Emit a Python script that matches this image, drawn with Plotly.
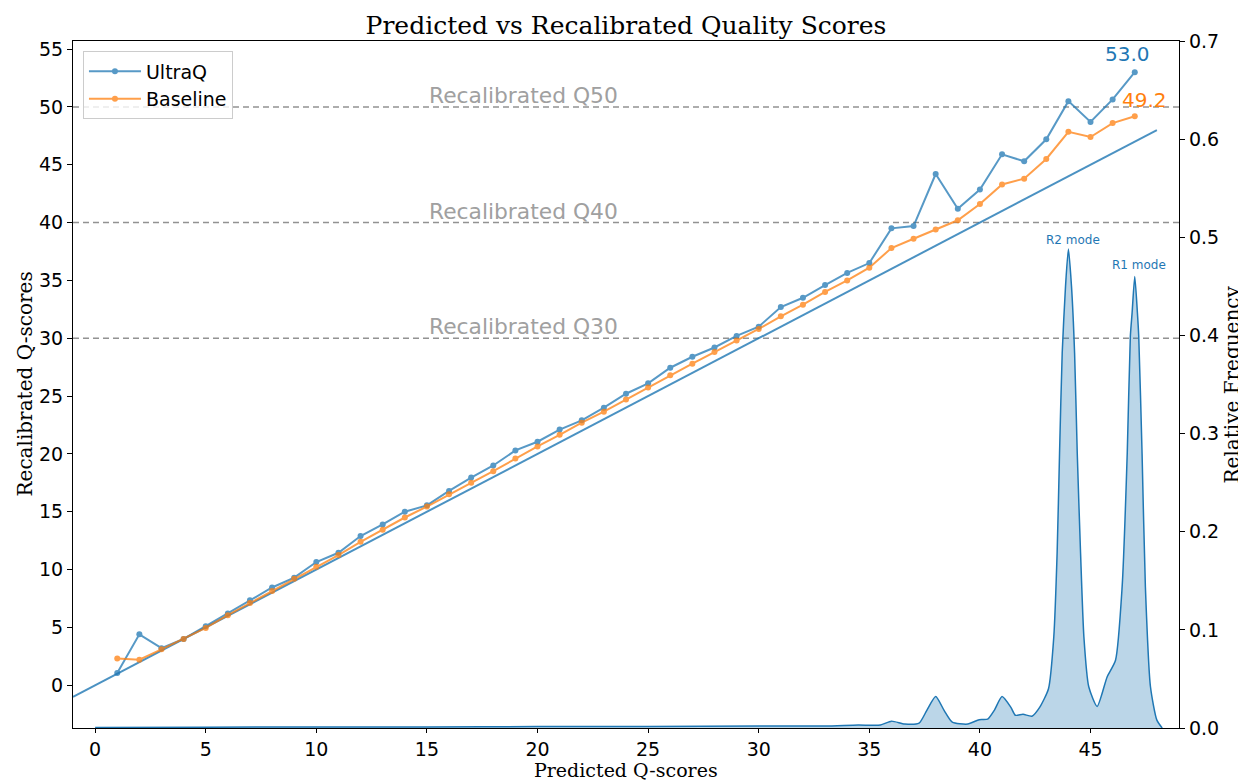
import plotly.graph_objects as go

# ---- data ----
pred_q = list(range(1, 48))
ultraq = [1.05, 4.4, 3.2, 4.0, 5.1, 6.2, 7.35, 8.45, 9.3, 10.65,
          11.45, 12.9, 13.9, 15.0, 15.55, 16.8, 17.95, 19.0, 20.3, 21.05,
          22.1, 22.9, 24.0, 25.2, 26.1, 27.45, 28.4, 29.2, 30.2, 31.0,
          32.7, 33.5, 34.6, 35.65, 36.5, 39.5, 39.7, 44.2, 41.2, 42.85,
          45.9, 45.3, 47.2, 50.5, 48.7, 50.65, 53.0]
baseline = [2.3, 2.2, 3.1, 4.0, 4.95, 6.05, 7.1, 8.15, 9.2, 10.25,
            11.25, 12.4, 13.45, 14.5, 15.45, 16.5, 17.5, 18.5, 19.6, 20.65,
            21.65, 22.7, 23.65, 24.7, 25.75, 26.8, 27.8, 28.8, 29.8, 30.8,
            31.9, 32.9, 34.0, 35.0, 36.1, 37.8, 38.6, 39.4, 40.2, 41.6,
            43.3, 43.8, 45.5, 47.85, 47.4, 48.6, 49.2]
identity_x = [-1, 48]

dens_x = [0, 5, 10, 15, 20, 25, 30, 33, 34.5, 35.5, 36.0, 36.6, 37.25, 37.6,
          38.0, 38.38, 38.75, 39.45, 39.97, 40.35, 40.65, 41.0, 41.4, 41.6,
          41.95, 42.35, 42.7, 43.1, 43.34, 43.49, 43.6, 43.72, 43.87, 44.0,
          44.14, 44.28, 44.4, 44.55, 44.7, 44.92, 45.3, 45.75, 46.13, 46.43,
          46.66, 46.8, 46.88, 47.0, 47.12, 47.18, 47.33, 47.48, 47.71, 48.0, 48.24]
dens_y = [0.0005, 0.0008, 0.001, 0.001, 0.0015, 0.0015, 0.002, 0.002, 0.003, 0.003,
          0.007, 0.004, 0.005, 0.018, 0.032, 0.018, 0.006, 0.004, 0.0085, 0.009,
          0.018, 0.032, 0.021, 0.013, 0.014, 0.012, 0.021, 0.040, 0.093, 0.178,
          0.28, 0.382, 0.45, 0.488, 0.45, 0.382, 0.28, 0.178, 0.093, 0.042,
          0.022, 0.052, 0.069, 0.144, 0.28, 0.399, 0.423, 0.46, 0.423, 0.399,
          0.28, 0.144, 0.042, 0.008, 0.0]

q_levels = [30, 40, 50]
x_ticks = [0, 5, 10, 15, 20, 25, 30, 35, 40, 45]
y_ticks = [0, 5, 10, 15, 20, 25, 30, 35, 40, 45, 50, 55]
y2_ticks = [0.0, 0.1, 0.2, 0.3, 0.4, 0.5, 0.6, 0.7]

BLUE = "#1f77b4"
ORANGE = "#ff7f0e"
SANS = "DejaVu Sans"
SERIF = "DejaVu Serif"

fig = go.Figure()

fig.add_trace(go.Scatter(x=identity_x, y=identity_x, mode="lines",
                         line=dict(color=BLUE, width=2), opacity=0.8, showlegend=False,
                         hoverinfo="skip"))
fig.add_trace(go.Scatter(x=pred_q, y=ultraq, mode="lines+markers", name="UltraQ",
                         line=dict(color=BLUE, width=2), marker=dict(size=6, color=BLUE),
                         opacity=0.75))
fig.add_trace(go.Scatter(x=pred_q, y=baseline, mode="lines+markers", name="Baseline",
                         line=dict(color=ORANGE, width=2), marker=dict(size=6, color=ORANGE),
                         opacity=0.75))
fig.add_trace(go.Scatter(x=dens_x, y=dens_y, mode="lines", yaxis="y2",
                         line=dict(color=BLUE, width=1.5, shape="spline", smoothing=0.6),
                         fill="tozeroy", fillcolor="rgba(31,119,180,0.3)",
                         showlegend=False, hoverinfo="skip"))

for q in q_levels:
    fig.add_shape(type="line", xref="paper", x0=0, x1=1, yref="y", y0=q, y1=q,
                  line=dict(color="rgba(110,110,110,0.75)", width=1.5, dash="6px,4px"),
                  layer="below")
    fig.add_annotation(x=15, y=q + 1.0, xref="x", yref="y", text=f"Recalibrated Q{q}",
                       showarrow=False, xanchor="left", yanchor="middle",
                       font=dict(family=SANS, size=21.8, color="#a0a0a0"))

fig.add_annotation(x=46.69, y=54.6, xref="x", yref="y", text=f"{ultraq[-1]:.1f}",
                   showarrow=False, font=dict(family=SANS, size=20, color=BLUE))
fig.add_annotation(x=47.43, y=50.6, xref="x", yref="y", text=f"{baseline[-1]:.1f}",
                   showarrow=False, font=dict(family=SANS, size=20, color=ORANGE))
fig.add_annotation(x=44.23, y=0.497, xref="x", yref="y2", text="R2 mode",
                   showarrow=False, font=dict(family=SANS, size=12, color=BLUE))
fig.add_annotation(x=47.2, y=0.472, xref="x", yref="y2", text="R1 mode",
                   showarrow=False, font=dict(family=SANS, size=12, color=BLUE))

# axis titles as annotations (paper coords)
title_font = dict(family=SERIF, size=20, color="black")
fig.add_annotation(x=0.5, y=-0.0611, xref="paper", yref="paper", text="Predicted Q-scores",
                   showarrow=False, xanchor="center", yanchor="middle", borderpad=0,
                   font=dict(family=SERIF, size=19, color="black"))
fig.add_annotation(x=-0.0443, y=0.5, xref="paper", yref="paper", text="Recalibrated Q-scores",
                   showarrow=False, textangle=-90, xanchor="center", yanchor="middle",
                   font=title_font)
fig.add_annotation(x=1.0479, y=0.5, xref="paper", yref="paper", text="Relative Frequency",
                   showarrow=False, textangle=-90, xanchor="center", yanchor="middle",
                   font=title_font)

axis_common = dict(showgrid=False, zeroline=False, showline=True, linecolor="black",
                   linewidth=1.2, ticks="outside", tickcolor="black",
                   automargin=False,
                   tickfont=dict(family=SANS, size=19, color="black"))

# page has an 8px body margin, so the figure is 8px smaller than the window
fig.update_layout(
    width=1238, height=772,
    paper_bgcolor="white", plot_bgcolor="white",
    margin=dict(l=65, r=67, t=33, b=52),
    title=dict(text="Predicted vs Recalibrated Quality Scores", x=0.5, xanchor="center",
               xref="paper", y=0.978, yanchor="middle",
               font=dict(family=SERIF, size=25, color="black")),
    xaxis=dict(range=[-1, 49], tickvals=x_ticks, mirror=True, ticklen=4, **axis_common),
    yaxis=dict(range=[-3.7, 55.7], tickvals=y_ticks, ticklen=5, **axis_common),
    yaxis2=dict(range=[0, 0.7], tickvals=y2_ticks, tickformat=".1f", overlaying="y",
                side="right", ticklen=5, **axis_common),
    legend=dict(x=0.009, y=0.985, xanchor="left", yanchor="top", itemwidth=52,
                bgcolor="rgba(255,255,255,0.8)", bordercolor="#cccccc", borderwidth=1,
                font=dict(family=SANS, size=19, color="black")),
    showlegend=True,
)

fig.write_html("out.html")
